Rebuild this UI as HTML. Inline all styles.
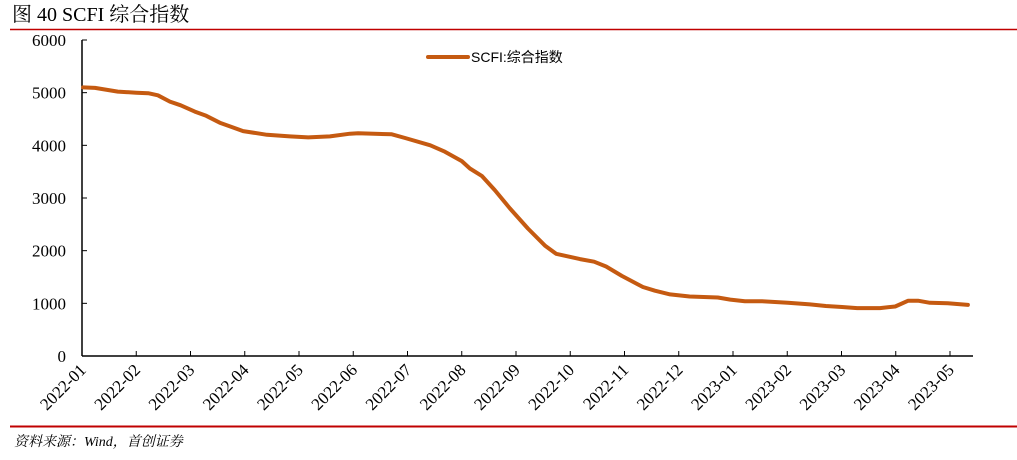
<!DOCTYPE html>
<html><head><meta charset="utf-8"><style>
body{margin:0;background:#fff;width:1017px;height:455px;overflow:hidden;font-family:"Liberation Serif","Noto Serif CJK SC",serif}
</style></head><body>
<svg width="1017" height="455" xmlns="http://www.w3.org/2000/svg">
<text x="12" y="21" font-size="20" font-family="Liberation Serif, Noto Serif CJK SC, serif">图  40 SCFI 综合指数</text>
<line x1="10" y1="29.5" x2="1017" y2="29.5" stroke="#c00000" stroke-width="1.5"/>
<line x1="10" y1="426.5" x2="1017" y2="426.5" stroke="#c00000" stroke-width="2"/>
<text x="14" y="446" font-size="14" font-style="italic" font-family="Liberation Serif, Noto Serif CJK SC, serif">资料来源：Wind，首创证券</text>
<g id="axes"></g>
<g id="plot"></g>
<line x1="428" y1="57" x2="468" y2="57" stroke="#c55a11" stroke-width="4" stroke-linecap="round"/>
<text x="471" y="62" font-size="14" font-family="Liberation Sans, Noto Sans CJK SC, sans-serif">SCFI:综合指数</text>
</svg>
<script>
const monthLabels=["2022-01","2022-02","2022-03","2022-04","2022-05","2022-06","2022-07","2022-08","2022-09","2022-10","2022-11","2022-12","2023-01","2023-02","2023-03","2023-04","2023-05"];
const yTicks=[0,1000,2000,3000,4000,5000,6000];
const monthPos=[0.02,0.24,0.66,1.0,1.22,1.4,1.62,1.82,2.08,2.29,2.54,2.97,3.41,3.83,4.17,4.57,4.94,5.09,5.71,5.955,6.42,6.69,7.0,7.15,7.37,7.61,7.89,8.22,8.54,8.74,9.18,9.44,9.66,9.95,10.34,10.56,10.84,11.2,11.72,11.95,12.22,12.53,13.01,13.42,13.71,14.01,14.29,14.71,14.99,15.23,15.41,15.63,15.96,16.33];
const values=[5100,5090,5020,5000,4990,4950,4830,4760,4640,4560,4430,4270,4200,4170,4150,4170,4220,4230,4210,4140,4000,3880,3700,3560,3420,3150,2800,2420,2090,1940,1840,1790,1700,1520,1310,1240,1170,1130,1110,1070,1040,1040,1010,980,950,930,910,910,940,1050,1050,1010,1000,970];
const NS="http://www.w3.org/2000/svg";
const x0=82,mw=54.25,y0=356,yTop=40,ymax=6000;
const X=m=>x0+m*mw, Y=v=>y0-(v/ymax)*(y0-yTop);
const axes=document.getElementById('axes'),plot=document.getElementById('plot');
function mk(t,a,p){const e=document.createElementNS(NS,t);for(const k in a)e.setAttribute(k,a[k]);p.appendChild(e);return e;}
let l=mk('line',{x1:x0,y1:yTop,x2:x0,y2:y0,stroke:'#000','stroke-width':1.5},axes);


l=mk('line',{x1:x0,y1:y0,x2:973,y2:y0,stroke:'#000','stroke-width':1.5},axes);


yTicks.forEach(v=>{
 const t=mk('line',{x1:x0,y1:Y(v),x2:x0+5,y2:Y(v),stroke:'#000'},axes);
 
 
 const tx=mk('text',{x:66,y:Y(v)+6,'text-anchor':'end','font-size':17},axes);
 tx.textContent=v;
 
 
});
monthLabels.forEach((s,i)=>{
 const x=X(i);
 if(i>0){const t=mk('line',{x1:x,y1:y0,x2:x,y2:y0-5,stroke:'#000'},axes);
 
 }
 const tx=mk('text',{x:0,y:0,'text-anchor':'end','font-size':17,transform:`translate(${x+5},${y0+15}) rotate(-45)`},axes);
 tx.textContent=s;
 
 
});
const d=values.map((v,i)=>(i?'L':'M')+X(monthPos[i]).toFixed(1)+','+Y(v).toFixed(1)).join(' ');
const p=mk('path',{d:d,fill:'none',stroke:'#c55a11','stroke-width':4,'stroke-linejoin':'round','stroke-linecap':'round'},plot);


</script>
</body></html>
